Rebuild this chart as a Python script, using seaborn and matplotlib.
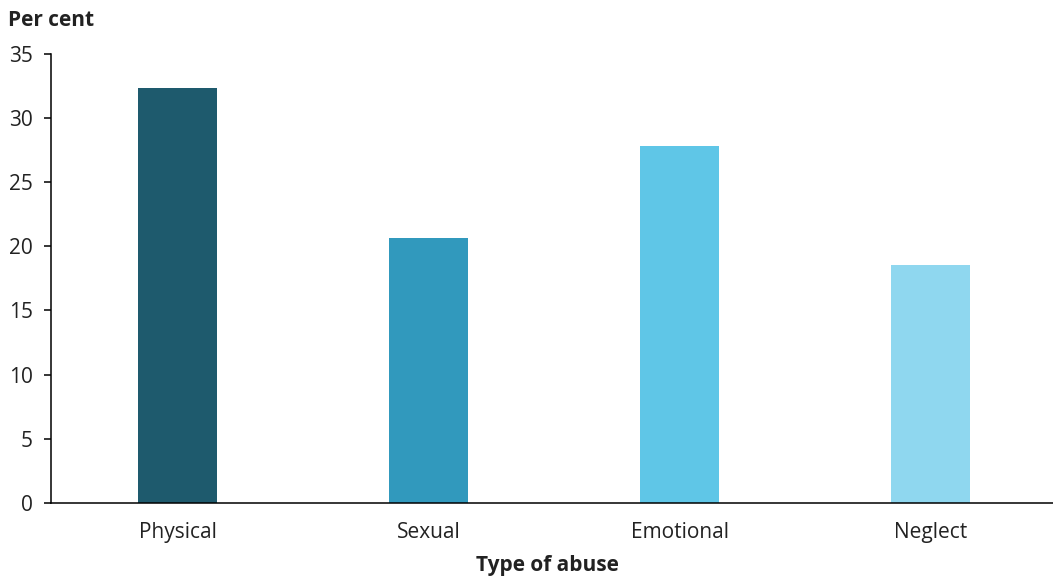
import matplotlib
matplotlib.use("Agg")
import matplotlib.pyplot as plt
import seaborn as sns
import pandas as pd

categories = ["Physical", "Sexual", "Emotional", "Neglect"]
values = [32.3, 20.6, 27.8, 18.5]
colors = ["#1e5a6d", "#3199bd", "#5fc6e7", "#8fd7ef"]
yticks = [0, 5, 10, 15, 20, 25, 30, 35]

sns.set_theme(style="white")
plt.rcParams["font.family"] = ["Open Sans", "DejaVu Sans"]

df = pd.DataFrame({"type": categories, "pct": values})

fig = plt.figure(figsize=(10.53, 5.79), dpi=100)
ax = fig.add_axes([51 / 1053, 1 - 503 / 579, 1 - 51 / 1053, (503 - 53.5) / 579])

sns.barplot(data=df, x="type", y="pct", hue="type", palette=colors,
            width=0.315, legend=False, ax=ax, saturation=1, linewidth=0)

ax.set_ylim(0, 35)
ax.set_xlim(-0.504, 3.488)
ax.set_yticks(yticks)
ax.set_yticklabels([str(t) for t in yticks], fontsize=15, color="#222222")
ax.set_xticks(range(len(categories)))
ax.set_xticklabels(categories, fontsize=15, color="#222222")

for s in ["top", "right"]:
    ax.spines[s].set_visible(False)
for s in ["left", "bottom"]:
    ax.spines[s].set_color("black")
    ax.spines[s].set_linewidth(1.1)

ax.tick_params(axis="y", direction="out", length=5, width=1.1, color="black", pad=8, left=True)
ax.tick_params(axis="x", length=0, pad=14)

ax.set_ylabel("")
ax.set_xlabel("Type of abuse", fontsize=15, fontweight="bold", color="#222222")
ax.xaxis.set_label_coords(0.4955, -0.140)
ax.xaxis.label.set_va("center")
fig.text(8 / 1053, 1 - 20 / 579, "Per cent", fontsize=15, fontweight="bold",
         color="#222222", ha="left", va="center")

fig.savefig("out.png", dpi=100)
